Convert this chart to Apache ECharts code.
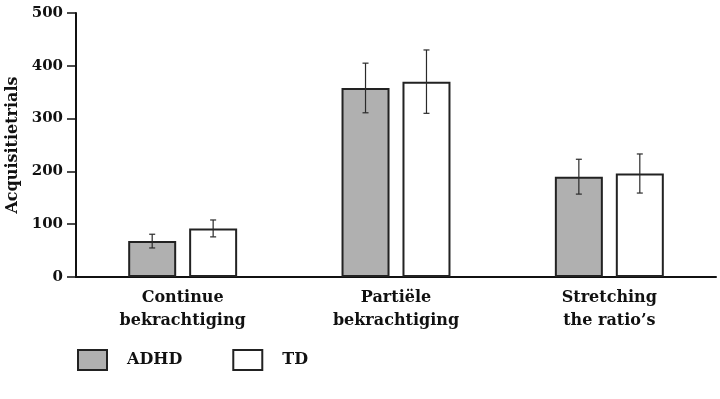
<!DOCTYPE html>
<html>
<head>
<meta charset="utf-8">
<script src="https://cdn.jsdelivr.net/npm/echarts@6/dist/echarts.min.js"></script>
<style>
  html, body { margin: 0; padding: 0; background: #fff; }
  #container { width: 720px; height: 399px; }
</style>
</head>
<body>
<div id="container"></div>
<script>
var categories = ['Continue\nbekrachtiging', 'Partiële\nbekrachtiging', 'Stretching\nthe ratio’s'];
var adhdMean = [68, 358, 190];
var adhdErr = [13, 47, 33];
var tdMean = [92, 370, 196];
var tdErr = [16, 60, 37];

var serif = '"DejaVu Serif", "Liberation Serif", serif';
var BAR_W = 0.225;   // share of the category band
var BAR_GAP = 0.27;  // share of the bar width

var dom = document.getElementById('container');
var myChart = echarts.init(dom);

// error bar for one series, shifted to its bar in the group
function errorSeries(name, means, errs, side) {
    var data = means.map(function (m, i) {
        return [i, m - errs[i], m + errs[i]];
    });
    return {
        name: name,
        type: 'custom',
        silent: true,
        z: 10,
        data: data,
        renderItem: function (params, api) {
            var band = api.size([1, 0])[0];
            var bw = band * BAR_W;
            var shift = side * (bw + bw * BAR_GAP) / 2;
            var lo = api.coord([api.value(0), api.value(1)]);
            var hi = api.coord([api.value(0), api.value(2)]);
            var x = lo[0] + shift;
            var cap = 3;
            var style = { stroke: '#2a2a2a', lineWidth: 1.2 };
            return {
                type: 'group',
                children: [
                    { type: 'line', shape: { x1: x, y1: lo[1], x2: x, y2: hi[1] }, style: style },
                    { type: 'line', shape: { x1: x - cap, y1: lo[1], x2: x + cap, y2: lo[1] }, style: style },
                    { type: 'line', shape: { x1: x - cap, y1: hi[1], x2: x + cap, y2: hi[1] }, style: style }
                ]
            };
        }
    };
}

var option = {
    animation: false,
    grid: { left: 76, right: 4, top: 13, bottom: 122, outerBoundsMode: 'none' },
    legend: {
        data: ['ADHD', 'TD'],
        left: 77,
        top: 349,
        padding: 0,
        itemWidth: 29,
        itemHeight: 20,
        itemGap: 50,
        icon: 'rect',
        textStyle: {
            fontFamily: serif,
            fontWeight: 'bold',
            fontSize: 16,
            color: '#111',
            padding: [0, 0, 0, 15]
        }
    },
    xAxis: {
        type: 'category',
        data: categories,
        axisLine: { lineStyle: { color: '#111', width: 2 } },
        axisTick: { show: false },
        axisLabel: {
            fontFamily: serif,
            fontWeight: 'bold',
            fontSize: 16,
            color: '#111',
            lineHeight: 23,
            margin: 9
        }
    },
    yAxis: {
        type: 'value',
        min: 0,
        max: 500,
        interval: 100,
        name: 'Acquisitietrials',
        nameLocation: 'middle',
        nameGap: 55,
        nameTextStyle: {
            fontFamily: serif,
            fontWeight: 'bold',
            fontSize: 16,
            color: '#111'
        },
        axisLine: { show: true, lineStyle: { color: '#111', width: 2 } },
        axisTick: { show: true, length: 9, lineStyle: { color: '#111', width: 1.5 } },
        splitLine: { show: false },
        axisLabel: {
            fontFamily: serif,
            fontWeight: 'bold',
            fontSize: 15,
            color: '#111',
            margin: 13
        }
    },
    series: [
        {
            name: 'ADHD',
            type: 'bar',
            data: adhdMean,
            barWidth: (BAR_W * 100) + '%',
            barGap: (BAR_GAP * 100) + '%',
            itemStyle: { color: '#b0b0b0', borderColor: '#222', borderWidth: 2 }
        },
        {
            name: 'TD',
            type: 'bar',
            data: tdMean,
            barWidth: (BAR_W * 100) + '%',
            itemStyle: { color: '#ffffff', borderColor: '#222', borderWidth: 2 }
        },
        errorSeries('ADHD-err', adhdMean, adhdErr, -1),
        errorSeries('TD-err', tdMean, tdErr, 1)
    ]
};

myChart.setOption(option);
</script>
</body>
</html>
